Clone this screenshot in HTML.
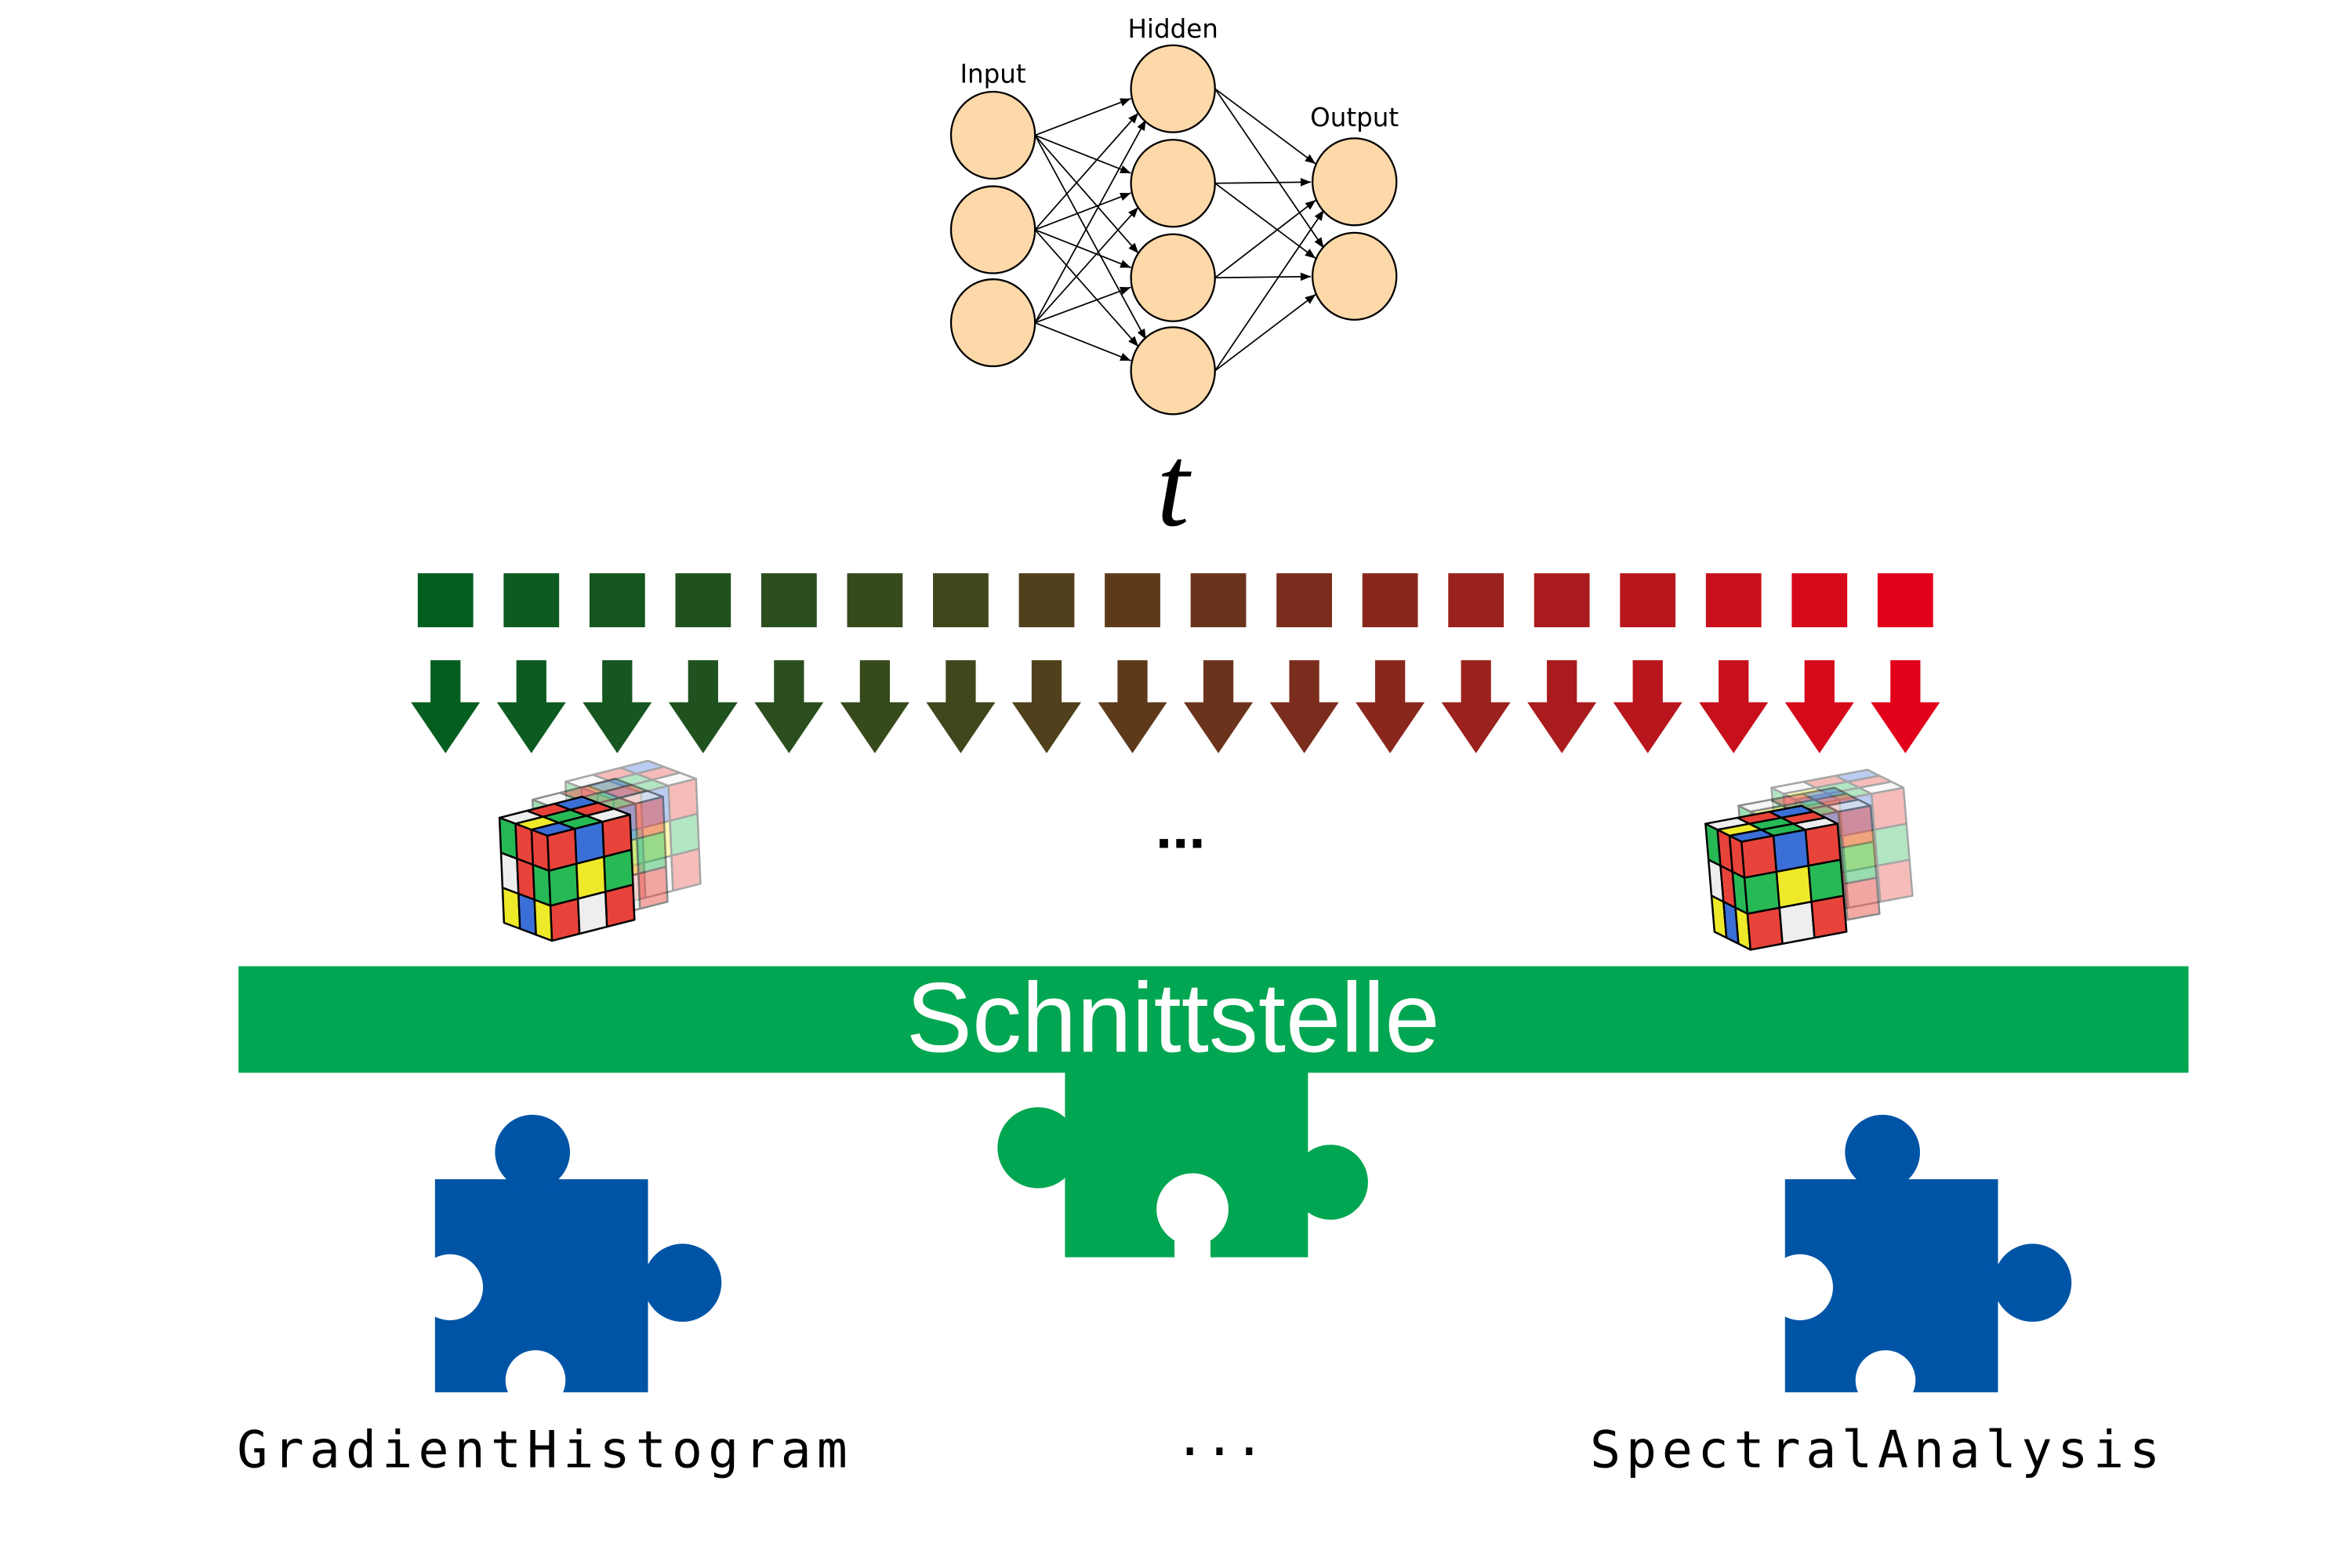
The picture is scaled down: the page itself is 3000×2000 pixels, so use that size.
<!DOCTYPE html>
<html><head><meta charset="utf-8"><style>
html,body{margin:0;padding:0;background:#fff;}
svg{display:block;}
</style></head>
<body>
<svg id="fig" width="3000" height="2000" viewBox="0 0 1568 1045" xmlns="http://www.w3.org/2000/svg">
<defs>
<marker id="ah" viewBox="0 0 10 10" refX="10" refY="5" markerWidth="7" markerHeight="7" orient="auto" markerUnits="userSpaceOnUse"><path d="M0,1 L10,5 L0,9 z" fill="#000"/></marker>
</defs>
<g id="net"></g>
<text x="782" y="350" font-family="Liberation Serif, serif" font-style="italic" font-size="78" text-anchor="middle" fill="#000">t</text>
<g id="steps"></g>
<g id="cubes"></g>
<text x="787" y="565" font-family="Liberation Sans, sans-serif" font-weight="bold" font-size="40" text-anchor="middle">...</text>
<rect x="159" y="644" width="1300" height="71" fill="#00a651"/>
<text x="782" y="701" font-family="Liberation Sans, sans-serif" font-size="66" fill="#fff" text-anchor="middle">Schnittstelle</text>
<g fill="#00a651">
<rect x="710" y="710" width="162" height="128"/>
<circle cx="692" cy="765" r="27"/>
<circle cx="887" cy="788" r="25"/>
<circle cx="795" cy="806" r="24" fill="#fff"/>
<rect x="783" y="812" width="24" height="30" fill="#fff"/>
</g>
<g fill="#0054a6">
<rect x="290" y="786" width="142" height="142"/>
<circle cx="355" cy="768" r="25"/>
<rect x="345" y="775" width="20" height="20"/>
<circle cx="455" cy="855" r="26"/>
<rect x="425" y="845" width="22" height="20"/>
<circle cx="300" cy="858" r="22" fill="#fff"/>
<circle cx="357" cy="920" r="20" fill="#fff"/>
<rect x="342" y="920" width="30" height="12" fill="#fff"/>
</g>
<g fill="#0054a6" transform="translate(900,0)">
<rect x="290" y="786" width="142" height="142"/>
<circle cx="355" cy="768" r="25"/>
<rect x="345" y="775" width="20" height="20"/>
<circle cx="455" cy="855" r="26"/>
<rect x="425" y="845" width="22" height="20"/>
<circle cx="300" cy="858" r="22" fill="#fff"/>
<circle cx="357" cy="920" r="20" fill="#fff"/>
<rect x="342" y="920" width="30" height="12" fill="#fff"/>
</g>
<text x="158" y="978" font-family="DejaVu Sans Mono, monospace" font-size="34" textLength="407" lengthAdjust="spacing">GradientHistogram</text>
<text x="783" y="970" font-family="DejaVu Sans Mono, monospace" font-size="34" textLength="60" lengthAdjust="spacing">...</text>
<text x="1060" y="978" font-family="DejaVu Sans Mono, monospace" font-size="34" textLength="380" lengthAdjust="spacing">SpectralAnalysis</text>
</svg>
<script>
const NS='http://www.w3.org/2000/svg';
function mk(tag,attrs,parent){const e=document.createElementNS(NS,tag);for(const k in attrs)e.setAttribute(k,attrs[k]);parent.appendChild(e);return e;}
const stepColors=['#035e20','#0d5b20','#165620','#1f521f','#2a4e1e','#364a1c','#42461c','#50401b','#5e3a1b','#6c331c','#7b2d1d','#8a271d','#9a211d','#aa1b1d','#b9151c','#c80f1c','#d6091b','#e2001a'];
const steps=document.getElementById('steps');
const x0=297,dx=57.25;
stepColors.forEach((c,i)=>{
  const cx=x0+i*dx;
  const r=mk('rect',{x:cx-18.5,y:382,width:37,height:36,fill:c},steps);
  
  
  const a=mk('path',{d:`M${cx-10},440 h20 v28 h13 L${cx},502 L${cx-23},468 h13 z`,fill:c},steps);
  
  
});
const net=document.getElementById('net');
const inp=[90,153,215],hid=[59,122,185,247],out=[121,184];
const XI=662,XH=782,XO=903,RX=28,RY=29;
function edges(xa,ya,xb,yb){ya.forEach(a=>yb.forEach(b=>{
  const ang=Math.atan2(b-a,xb-xa);
  const l=mk('line',{x1:xa+RX,y1:a,x2:xb-RX*Math.cos(ang)-1,y2:b-RY*Math.sin(ang)*0.9,stroke:'#000','stroke-width':0.9,'marker-end':'url(#ah)'},net);
  
  
}));}
edges(XI,inp,XH,hid);edges(XH,hid,XO,out);
[[XI,inp],[XH,hid],[XO,out]].forEach(([x,ys])=>ys.forEach(y=>{
  const c=mk('ellipse',{cx:x,cy:y,rx:RX,ry:RY,fill:'#fdd8a8',stroke:'#000','stroke-width':1.2},net);
  
  
}));
[['Input',XI,55],['Hidden',XH,25],['Output',XO,84]].forEach(([t,x,y])=>{
  const e=mk('text',{x:x,y:y,'font-family':'DejaVu Sans, sans-serif','font-size':17,'text-anchor':'middle'},net);
  e.textContent=t;
  
  
});
const cubes=document.getElementById('cubes');
const cols={r:'#e8433a',g:'#27b955',b:'#3b6fd8',y:'#eeea2a',w:'#eeeeee'};
const faceL='grrwrgyby',faceR='rbrgygrwr',faceT='wrbygrbgw';
function face(g,o,u,v,pat){
  for(let i=0;i<3;i++)for(let j=0;j<3;j++){
    const p=(a,b)=>[o[0]+u[0]*a/3+v[0]*b/3,o[1]+u[1]*a/3+v[1]*b/3];
    const pts=[p(i,j),p(i+1,j),p(i+1,j+1),p(i,j+1)].map(q=>q.join(',')).join(' ');
    mk('polygon',{points:pts,fill:cols[pat[j*3+i]],stroke:'#000','stroke-width':1.3,'stroke-linejoin':'round'},g);
  }
}
function cube(A,uL,uR,v,op,name){
  const g=mk('g',{opacity:op},cubes);
  
  
  const B=[A[0]+uL[0],A[1]+uL[1]];
  face(g,A,uR,uL,faceT);
  face(g,A,uL,v,faceL);
  face(g,B,uR,v,faceR);
}
function cubeSet(A,uL,uR,v,name){
  cube([A[0]+44,A[1]-24],uL,uR,v,0.35,name+'-ghost2');
  cube([A[0]+22,A[1]-12],uL,uR,v,0.45,name+'-ghost1');
  cube(A,uL,uR,v,1,name);
}
cubeSet([333,545],[32,12],[55,-14],[3,70],'cube-left');
cubeSet([1137,549],[24,12],[64,-12],[6,72],'cube-right');
</script>
</body></html>
